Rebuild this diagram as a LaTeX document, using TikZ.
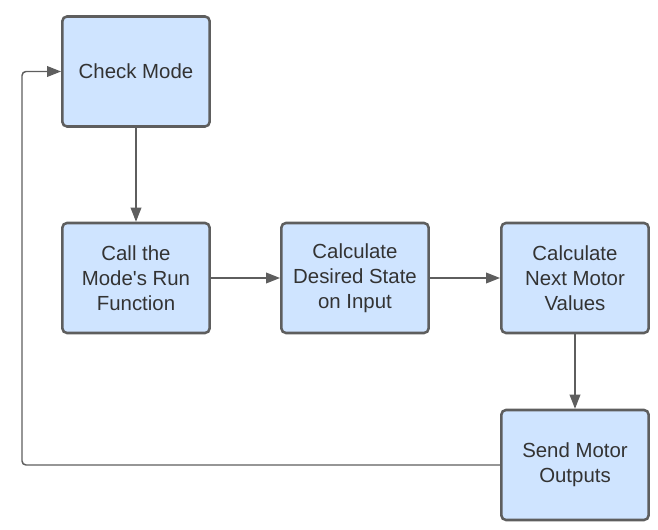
\documentclass[tikz,border=0pt]{standalone}
\usepackage{fontspec}
\setmainfont{Liberation Sans}
\usetikzlibrary{arrows.meta}
\definecolor{boxfill}{HTML}{CFE4FF}
\definecolor{boxline}{HTML}{5E5E5E}
\definecolor{boxtext}{HTML}{333333}
\tikzset{
    stepbox/.style={draw=boxline, fill=boxfill, line width=1.9pt, rounded corners=3.5pt,
        minimum width=110.5pt, minimum height=82.5pt, align=center, text=boxtext,
        font=\fontsize{15.3}{18.75}\selectfont},
    flow/.style={draw=boxline, line width=1.1pt, ->}
}
\begin{document}
\begin{tikzpicture}[x=0.75pt, y=-0.75pt, >={Triangle[length=10.5pt,width=8pt]}]
    \useasboundingbox (0,0) rectangle (658,530);
    \node [stepbox] (check)   at (136,71.5) {Check Mode};
    \node [stepbox] (run)     at (136,278)  {Call the\\Mode\textquotesingle s Run\\Function};
    \node [stepbox] (desired) at (355,278)  {Calculate\\Desired State\\on Input};
    \node [stepbox] (next)    at (575,278)  {Calculate\\Next Motor\\Values};
    \node [stepbox] (send)    at (575,465)  {Send Motor\\Outputs};
    \coordinate (loop) at (22,465);
    \draw [flow] (check) -- (run);
    \draw [flow] (run) -- (desired);
    \draw [flow] (desired) -- (next);
    \draw [flow] (next) -- (send);
    \draw [flow, rounded corners=3pt] (send.west) -- (loop) |- (check.west);
\end{tikzpicture}
\end{document}
